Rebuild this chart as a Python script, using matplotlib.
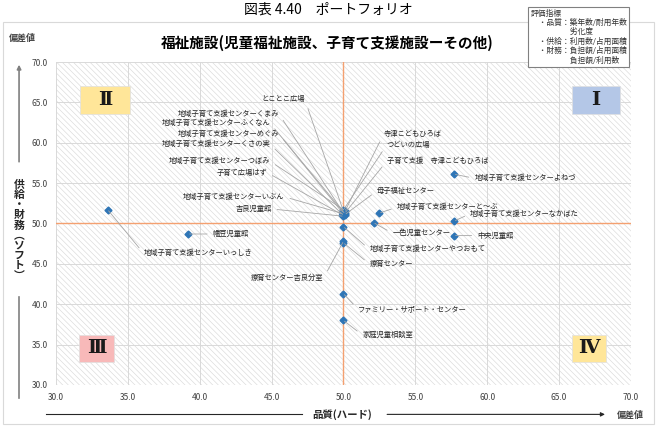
"""
Portfolio chart: welfare facilities (quality vs supply/finance deviation)
"""
import matplotlib
matplotlib.use('Agg')
from matplotlib import pyplot as plt
from matplotlib.patches import Rectangle, FancyArrowPatch

plt.rcParams['font.family'] = ['Noto Sans CJK JP', 'DejaVu Sans']
plt.rcParams['hatch.linewidth'] = 0.45
plt.rcParams['hatch.color'] = '#dadada'

# data
names = ['とことこ広場', '地域子育て支援センターくまみ', '地域子育て支援センターふくなん',
         '地域子育て支援センターめぐみ', '地域子育て支援センターくさの実',
         '地域子育て支援センターつぼみ', '子育て広場はず', '地域子育て支援センターいぶん',
         '吉良児童館', '寺津こどもひろば', 'つどいの広場', '子育て支援　寺津こどもひろば',
         '母子福祉センター', '地域子育て支援センターと～ぶ', '地域子育て支援センターなかばた',
         '地域子育て支援センターよねづ', '一色児童センター', '中央児童館',
         '地域子育て支援センターやつおもて', '療育センター', '療育センター吉良分室',
         'ファミリー・サポート・センター', '家庭児童相談室', '幡豆児童館',
         '地域子育て支援センターいっしき']
quality = [50.0, 50.0, 50.1, 49.9, 50.0, 50.1, 49.9, 50.0, 50.0, 50.1, 50.0, 50.1,
           50.1, 52.5, 57.7, 57.7, 52.1, 57.7, 50.0, 50.0, 50.0, 50.0, 50.0, 39.2, 33.6]
supply = [51.5, 51.3, 51.2, 51.4, 51.0, 51.6, 51.1, 51.2, 50.9, 51.5, 51.7, 51.3,
          51.1, 51.3, 50.3, 56.1, 50.1, 48.5, 49.6, 47.6, 47.8, 41.3, 38.0, 48.7, 51.7]

# label placement (data coords) and alignment
label_xy = [(47.3, 65.4), (45.5, 63.6), (44.9, 62.4), (45.5, 61.1), (44.9, 59.8),
            (44.9, 57.7), (44.7, 56.3), (45.9, 53.3), (45.0, 51.8), (52.8, 61.1),
            (53.0, 59.7), (53.0, 57.7), (52.3, 54.0), (53.7, 52.0), (58.8, 51.2),
            (59.1, 55.6), (53.4, 48.8), (59.3, 48.5), (51.8, 46.8), (51.8, 45.0),
            (48.6, 43.2), (51.0, 39.4), (51.3, 36.2), (40.9, 48.7), (36.1, 46.3)]
label_ha = ['right'] * 9 + ['left'] * 11 + ['right'] + ['left'] * 4

fig = plt.figure(figsize=(6.57, 4.33), dpi=100)
ax = fig.add_axes([0.0852, 0.1109, 0.8752, 0.7459])

# outer chart frame
fig.patches.append(Rectangle((0.004, 0.02), 0.992, 0.93, transform=fig.transFigure,
                             fill=False, edgecolor='#d9d9d9', lw=0.8, zorder=0))

ax.patch.set_facecolor('white')
ax.patch.set_hatch('\\\\\\\\\\\\')
ax.patch.set_edgecolor('#dadada')
for s in ax.spines.values():
    s.set_visible(False)

ax.set_xlim(30, 70)
ax.set_ylim(30, 70)
ax.set_xticks([30 + 5 * i for i in range(9)])
ax.set_yticks([30 + 5 * i for i in range(9)])
ax.xaxis.set_major_formatter(matplotlib.ticker.FormatStrFormatter('%.1f'))
ax.yaxis.set_major_formatter(matplotlib.ticker.FormatStrFormatter('%.1f'))
ax.tick_params(length=0, labelsize=6, colors='#404040', pad=6)
ax.grid(True, color='#d9d9d9', lw=0.7)
ax.set_axisbelow(True)

ax.axvline(50, color='#f4a070', lw=1.0, zorder=2)
ax.axhline(50, color='#f4a070', lw=1.0, zorder=2)

ax.plot(quality, supply, 'D', color='#2e75b6', ms=3.5, zorder=4, ls='none')

for n, x, y, (tx, ty), ha in zip(names, quality, supply, label_xy, label_ha):
    ax.annotate(n, (x, y), xytext=(tx, ty), ha=ha, va='center', fontsize=5.25,
                color='#262626', zorder=5,
                arrowprops=dict(arrowstyle='-', color='#a6a6a6', lw=0.6,
                                shrinkA=2, shrinkB=1,
                                relpos=(1, 0.5) if ha == 'right' else (0, 0.5)))

# quadrant markers: (label, x0, y0, width, height, colour) in data coords
quads = [('Ⅱ', 31.7, 63.6, 3.45, 3.4, '#ffe699'), ('Ⅰ', 65.9, 63.6, 3.35, 3.4, '#b4c7e7'),
         ('Ⅲ', 31.6, 32.9, 2.45, 3.3, '#f8b9b9'), ('Ⅳ', 65.9, 32.9, 2.35, 3.3, '#ffe699')]
for q, x0, y0, w, h, c in quads:
    ax.add_patch(Rectangle((x0, y0), w, h, fc=c, ec='#e0e0e0', lw=0.5, zorder=6))
    ax.text(x0 + w / 2, y0 + h / 2, q, ha='center', va='center', fontsize=14,
            fontweight='bold', color='#1a1a1a', family=['DejaVu Serif'], zorder=7)

# titles
fig.text(0.5, 0.977, '図表 4.40　ポートフォリオ', ha='center', va='center', fontsize=10)
fig.text(0.498, 0.902, '福祉施設(児童福祉施設、子育て支援施設ーその他)', ha='center',
         va='center', fontsize=10.5, fontweight='bold')

# y axis label and arrow
fig.text(0.034, 0.912, '偏差値', ha='center', va='center', fontsize=6.5, fontweight='bold',
         color='#404040')
fig.text(0.959, 0.042, '偏差値', ha='center', va='center', fontsize=6.5, fontweight='bold',
         color='#404040')
fig.patches.append(FancyArrowPatch((0.029, 0.62), (0.029, 0.857), transform=fig.transFigure,
                                   arrowstyle='-|>', mutation_scale=6, color='#808080', lw=1.2))
fig.lines.append(plt.Line2D([0.029, 0.029], [0.08, 0.315], transform=fig.transFigure,
                            color='#808080', lw=1.2))
fig.text(0.029, 0.468, '供\n給\n・\n財\n務\n︵\nソ\nフ\nト\n︶', ha='center', va='center',
         fontsize=7.8, fontweight='bold', linespacing=1.0, color='#262626')

# x axis label and arrow
fig.lines.append(plt.Line2D([0.07, 0.46], [0.043, 0.043], transform=fig.transFigure,
                            color='#262626', lw=0.8))
fig.patches.append(FancyArrowPatch((0.585, 0.043), (0.925, 0.043), transform=fig.transFigure,
                                   arrowstyle='-|>', mutation_scale=6, color='#262626', lw=0.8))
fig.text(0.52, 0.043, '品質(ハード)', ha='center', va='center', fontsize=7.5,
         fontweight='bold', color='#262626')

# evaluation index box
box_txt = ('評価指標\n　・品質：築年数/耐用年数\n　　　　　劣化度\n　・供給：利用数/占用面積\n'
           '　・財務：負担額/占用面積\n　　　　　負担額/利用数')
fig.text(0.808, 0.978, box_txt, ha='left', va='top', fontsize=5.6, linespacing=1.2,
         color='#333333',
         bbox=dict(boxstyle='square,pad=0.35', fc='white', ec='#808080', lw=0.8))

fig.savefig('out.png', dpi=100)
